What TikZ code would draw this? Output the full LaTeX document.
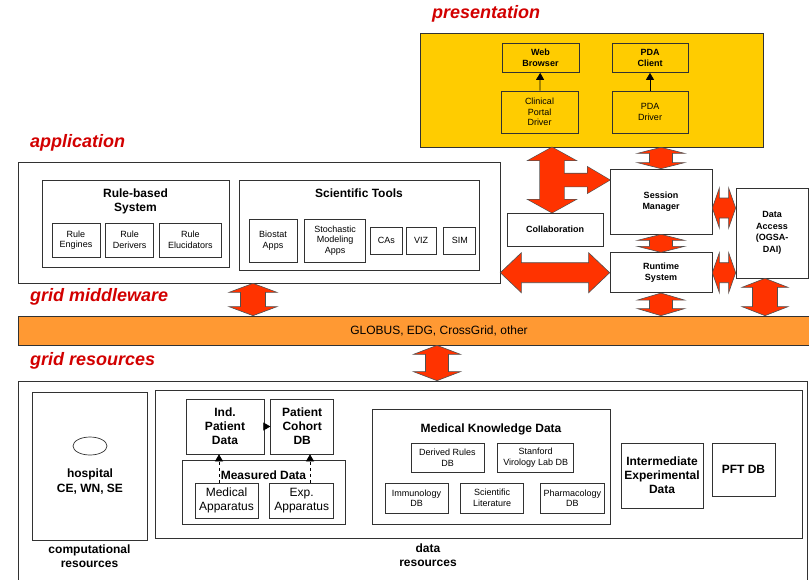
\documentclass[tikz,border=0pt]{standalone}
\usepackage{fontspec}
\setmainfont{Liberation Sans}
\usetikzlibrary{positioning,calc,shapes.geometric,arrows.meta}

\definecolor{labelred}{RGB}{210,0,0}
\definecolor{presyellow}{RGB}{255,204,0}
\definecolor{midorange}{RGB}{255,153,51}
\definecolor{arrowred}{RGB}{255,51,0}
\definecolor{boxline}{RGB}{50,50,50}
\definecolor{arrowline}{RGB}{80,80,80}

\tikzset{
	fat/.style n args={3}{to path={
		let \p1=(\tikztostart), \p2=(\tikztotarget),
			\n1={atan2(\y2-\y1,\x2-\x1)} in
		(\p1) -- ($(\p1)+(\n1:#3)+(\n1+90:#2)$) -- ($(\p1)+(\n1:#3)+(\n1+90:#1)$)
		-- ($(\p2)+(\n1+180:#3)+(\n1+90:#1)$) -- ($(\p2)+(\n1+180:#3)+(\n1+90:#2)$)
		-- (\p2) -- ($(\p2)+(\n1+180:#3)+(\n1-90:#2)$) -- ($(\p2)+(\n1+180:#3)+(\n1-90:#1)$)
		-- ($(\p1)+(\n1:#3)+(\n1-90:#1)$) -- ($(\p1)+(\n1:#3)+(\n1-90:#2)$) -- cycle}},
	fatone/.style n args={3}{to path={
		let \p1=(\tikztostart), \p2=(\tikztotarget),
			\n1={atan2(\y2-\y1,\x2-\x1)} in
		($(\p1)+(\n1+90:#1)$) -- ($(\p2)+(\n1+180:#3)+(\n1+90:#1)$) -- ($(\p2)+(\n1+180:#3)+(\n1+90:#2)$)
		-- (\p2) -- ($(\p2)+(\n1+180:#3)+(\n1-90:#2)$) -- ($(\p2)+(\n1+180:#3)+(\n1-90:#1)$)
		-- ($(\p1)+(\n1-90:#1)$) -- cycle}}
}

\begin{document}
\begin{tikzpicture}[x=1pt, y=-1pt,
	box/.style={draw=boxline, line width=0.7pt, inner sep=1pt, align=center},
	wh/.style 2 args={minimum width=#1, minimum height=#2},
	small/.style={box, font=\fontsize{9}{10.5}\selectfont},
	smallb/.style={box, font=\fontsize{9}{10.5}\selectfont\bfseries},
	mid/.style={box, font=\fontsize{12}{14}\selectfont},
	big/.style={box, font=\fontsize{12}{14}\selectfont\bfseries},
	subtitle/.style={font=\fontsize{12}{14}\selectfont\bfseries, align=center, inner sep=0pt},
	sectlabel/.style={font=\fontsize{18}{20}\selectfont\bfseries\itshape, text=labelred, anchor=west, inner sep=0pt},
	block arrow/.style={draw=arrowline, fill=arrowred, line width=0.6pt, line join=miter},
	smalltip/.style={-{Triangle[length=7pt,width=8pt]}, line width=0.7pt}
	]
\useasboundingbox (0,0) rectangle (809,579);

% presentation
\node[sectlabel] (presl) at (432,14) {presentation};
\node[box, fill=presyellow, wh={343}{114}] (pres) at (591.5,90) {};
\node[smallb, wh={77}{29}] (web) at (540.5,58) {Web\\Browser};
\node[small, wh={77}{42}] (cpd) at (539.5,112) {Clinical\\Portal\\Driver};
\node[smallb, wh={76}{29}] (pdac) at (650,58) {PDA\\Client};
\node[small, wh={76}{42}] (pdad) at (650,112) {PDA\\Driver};
\draw[smalltip] (cpd) -- (web);
\draw[smalltip] (pdad) -- (pdac);

% application
\node[sectlabel] (appl) at (30,143) {application};
\node[box, wh={482}{121}] (app) at (259,222.5) {};
\node[box, wh={187}{87}] (rbs) at (135.5,223.5) {};
\node[subtitle, below=9pt of rbs.north] (rbsl) {Rule-based\\System};
\node[small, wh={48}{34}] (re) at (76,240) {Rule\\Engines};
\node[small, wh={48}{34}, right=5pt of re] (rd) {Rule\\Derivers};
\node[small, wh={62}{34}, right=5pt of rd] (rel) {Rule\\Elucidators};
\node[box, wh={240}{90}] (sci) at (359,225) {};
\node[subtitle, below=9pt of sci.north] (scil) {Scientific Tools};
\node[small, wh={48}{43}] (bio) at (273,240.5) {Biostat\\Apps};
\node[small, wh={61}{43}, right=7pt of bio] (sto) {Stochastic\\Modeling\\Apps};
\node[small, wh={32}{27}, right=4pt of sto] (cas) {CAs};
\node[small, wh={30}{27}, right=3pt of cas] (viz) {VIZ};
\node[small, wh={32}{27}, right=7pt of viz] (sim) {SIM};

% services
\node[smallb, wh={102}{65}] (sess) at (661,201.5) {Session\\Manager};
\node[smallb, wh={102}{40}, below=18pt of sess] (run) {Runtime\\System};
\node[smallb, wh={96}{33}] (collab) at (555,229.5) {Collaboration};
\node[box, font=\fontsize{9}{11.5}\selectfont\bfseries, wh={72}{90}] (dai) at (772,233) {Data\\Access\\(OGSA-\\DAI)};

% grid middleware
\node[sectlabel] (mwl) at (30,297) {grid middleware};
\node[box, fill=midorange, wh={842}{29}, font=\fontsize{12}{14}\selectfont] (bar) at (439,330.5) {GLOBUS, EDG, CrossGrid, other};

% grid resources
\node[sectlabel] (resl) at (30,361) {grid resources};
\node[box, wh={789}{219}] (res) at (412.5,490.5) {};
\node[box, wh={115}{148}] (comp) at (89.5,466) {};
\node[draw=boxline, line width=0.7pt, ellipse, minimum width=34, minimum height=18, inner sep=0pt] (hosp) at (90,446) {};
\node[subtitle, font=\fontsize{12}{15}\selectfont\bfseries] (hospl) at (90,482) {hospital\\CE, WN, SE};
\node[subtitle, below=4pt of comp.south] (compl) {computational\\resources};

\node[box, wh={647}{148}] (datares) at (478.5,464) {};
\node[subtitle, anchor=north] (datal) at (428,544) {data\\resources};
\node[big, wh={78}{55}] (ipd) at (225,426.5) {Ind.\\Patient\\Data};
\node[big, wh={63}{55}, right=6pt of ipd] (pcdb) {Patient\\Cohort\\DB};
\node[box, wh={163}{64}] (meas) at (263.5,492) {};
\node[subtitle, below=11pt of meas.north] (measl) {Measured Data};
\node[mid, wh={63}{35}] (medapp) at (226.5,500.5) {Medical\\Apparatus};
\node[mid, wh={64}{35}, right=11pt of medapp] (expapp) {Exp.\\Apparatus};
\coordinate (mx1) at (219,0);
\coordinate (mx2) at (310,0);
\draw[smalltip] (ipd) -- (pcdb);
\draw[smalltip, dashed] (medapp.north -| mx1) -- (ipd.south -| mx1);
\draw[smalltip, dashed] (expapp.north -| mx2) -- (pcdb.south -| mx2);

\node[box, wh={238}{115}] (mkd) at (491,466.5) {};
\node[subtitle, below=15pt of mkd.north] (mkdl) {Medical Knowledge Data};
\node[small, wh={73}{29}] (drdb) at (447.5,457.5) {Derived Rules\\DB};
\node[small, wh={76}{29}, right=13pt of drdb] (svl) {Stanford\\Virology Lab DB};
\node[small, wh={63}{30}] (imm) at (416.5,498) {Immunology\\DB};
\node[small, wh={63}{30}, right=12pt of imm] (sl) {Scientific\\Literature};
\node[small, wh={64}{30}, right=16pt of sl] (pharm) {Pharmacology\\DB};
\node[big, wh={82}{65}] (ied) at (662,475.5) {Intermediate\\Experimental\\Data};
\node[big, wh={63}{53}] (pft) at (743.5,469.5) {PFT DB};

% block arrows
\coordinate (mwx) at (253,0);
\coordinate (rsx) at (437,0);
\coordinate (dax) at (765,0);
\coordinate (tx) at (552,0);
\coordinate (ty) at (0,180);
\coordinate (sey) at (0,208);
\path[block arrow, fat={12.5pt}{24pt}{9pt}] (app.south -| mwx) to (bar.north -| mwx);
\path[block arrow, fat={11.5pt}{23.5pt}{9pt}] (bar.south -| rsx) to (res.north -| rsx);
\path[block arrow, fat={10pt}{20pt}{21pt}] (app.east |- run.west) to (run.west);
\path[block arrow, fat={11.5pt}{23.5pt}{6pt}] (pres.south -| sess.north) to (sess.north);
\path[block arrow, fat={11.5pt}{23.5pt}{6pt}] (sess.south) to (run.north);
\path[block arrow, fat={11.5pt}{23.5pt}{7pt}] (run.south) to (bar.north -| run.south);
\path[block arrow, fat={10pt}{20pt}{7pt}] (sess.east |- sey) to (dai.west |- sey);
\path[block arrow, fat={10pt}{20pt}{7pt}] (run.east) to (dai.west |- run.east);
\path[block arrow, fat={12.5pt}{23pt}{9pt}] (dai.south -| dax) to (bar.north -| dax);
% T-shaped arrow to collaboration / session manager
\path[draw=arrowline, line width=1.2pt, line join=miter, fat={12pt}{23.5pt}{13pt}] (pres.south -| tx) to (collab.north -| tx);
\path[draw=arrowline, line width=1.2pt, line join=miter, fatone={6.5pt}{13pt}{22pt}] (tx |- ty) to (sess.west |- ty);
\path[fill=arrowred, fat={12pt}{23.5pt}{13pt}] (pres.south -| tx) to (collab.north -| tx);
\path[fill=arrowred, fatone={6.5pt}{13pt}{22pt}] (tx |- ty) to (sess.west |- ty);
\end{tikzpicture}
\end{document}
